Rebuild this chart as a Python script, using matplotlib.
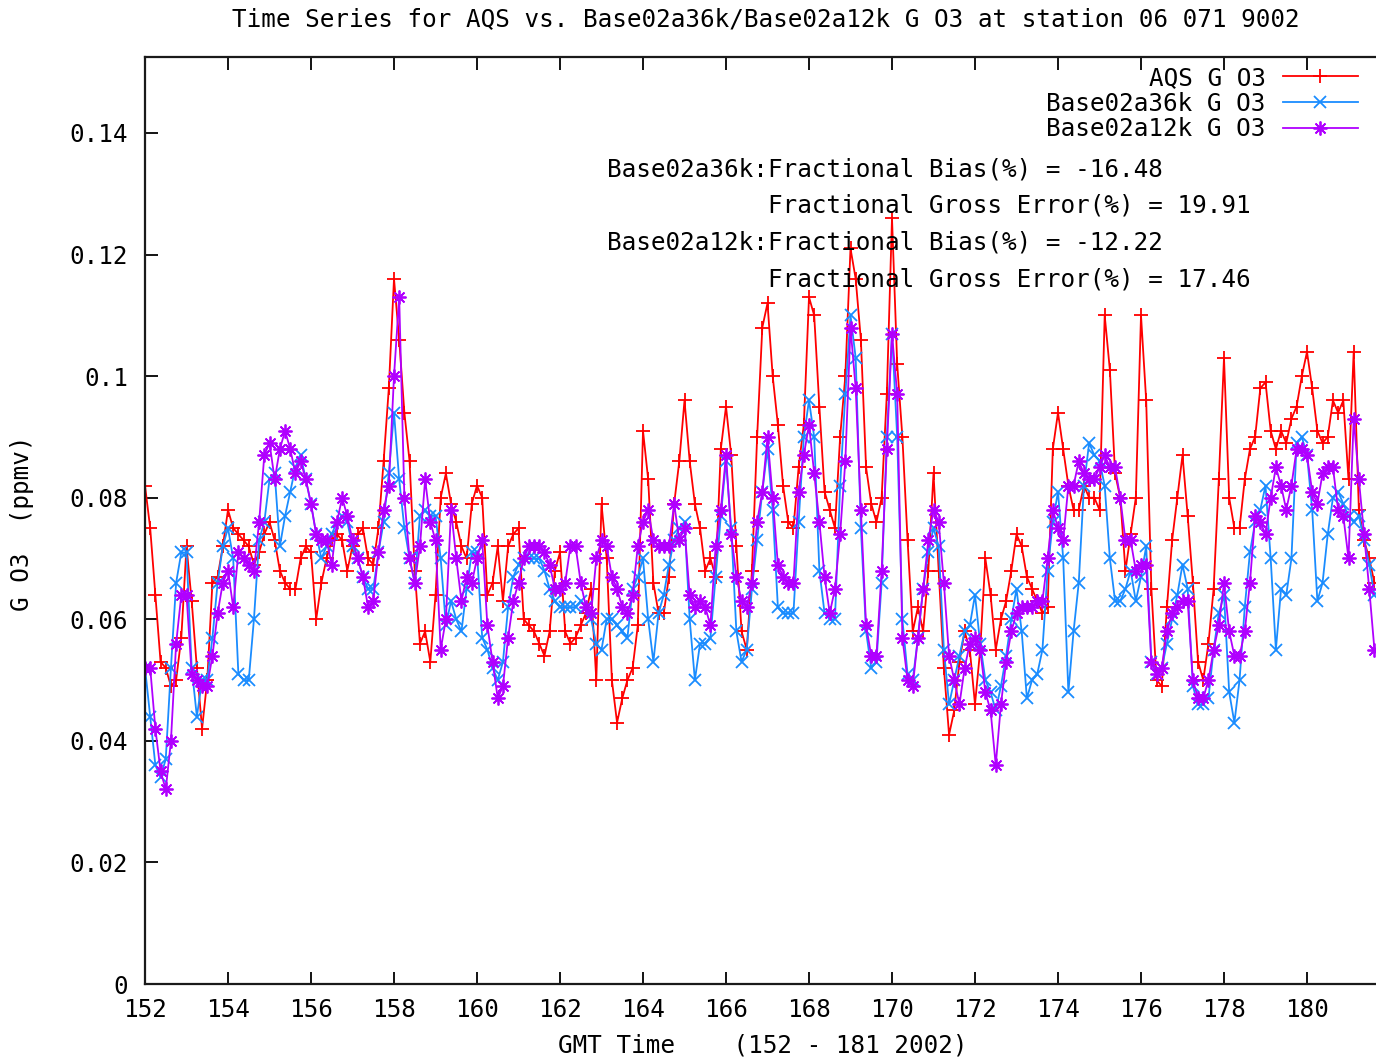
import numpy as np
import matplotlib
matplotlib.use("Agg")
import matplotlib.pyplot as plt
from matplotlib.ticker import FixedLocator, FuncFormatter

# Hourly ozone sampled every 3 hours, GMT day-of-year 152.0 .. 181.625 (2002)
STEP_PER_DAY = 8
START_DAY = 152

aqs_o3 = [
    0.082, 0.075, 0.064, 0.053, 0.052, 0.049, 0.050, 0.057,   # 152
    0.072, 0.063, 0.052, 0.042, 0.050, 0.066, 0.067, 0.072,   # 153
    0.078, 0.075, 0.074, 0.073, 0.072, 0.069, 0.071, 0.074,   # 154
    0.076, 0.073, 0.068, 0.066, 0.065, 0.065, 0.070, 0.072,   # 155
    0.071, 0.060, 0.066, 0.070, 0.073, 0.074, 0.073, 0.068,   # 156
    0.072, 0.074, 0.075, 0.070, 0.069, 0.075, 0.086, 0.098,   # 157
    0.116, 0.106, 0.094, 0.086, 0.068, 0.056, 0.058, 0.053,   # 158
    0.064, 0.080, 0.084, 0.079, 0.076, 0.072, 0.070, 0.079,   # 159
    0.082, 0.080, 0.064, 0.066, 0.072, 0.063, 0.072, 0.074,   # 160
    0.075, 0.060, 0.059, 0.058, 0.056, 0.054, 0.058, 0.068,   # 161
    0.071, 0.058, 0.056, 0.057, 0.059, 0.061, 0.065, 0.050,   # 162
    0.079, 0.070, 0.050, 0.043, 0.047, 0.050, 0.052, 0.059,   # 163
    0.091, 0.083, 0.066, 0.061, 0.061, 0.067, 0.079, 0.086,   # 164
    0.096, 0.086, 0.079, 0.075, 0.068, 0.070, 0.067, 0.088,   # 165
    0.095, 0.087, 0.072, 0.058, 0.055, 0.068, 0.090, 0.108,   # 166
    0.112, 0.100, 0.092, 0.082, 0.076, 0.075, 0.085, 0.092,   # 167
    0.113, 0.110, 0.095, 0.081, 0.078, 0.075, 0.090, 0.100,   # 168
    0.121, 0.116, 0.106, 0.085, 0.079, 0.076, 0.080, 0.097,   # 169
    0.126, 0.102, 0.090, 0.073, 0.058, 0.062, 0.058, 0.068,   # 170
    0.084, 0.068, 0.052, 0.041, 0.045, 0.053, 0.058, 0.055,   # 171
    0.046, 0.055, 0.070, 0.064, 0.055, 0.060, 0.063, 0.068,   # 172
    0.074, 0.072, 0.067, 0.065, 0.063, 0.061, 0.062, 0.088,   # 173
    0.094, 0.088, 0.082, 0.078, 0.078, 0.082, 0.080, 0.080,   # 174
    0.078, 0.110, 0.101, 0.084, 0.080, 0.068, 0.074, 0.080,   # 175
    0.110, 0.096, 0.065, 0.050, 0.049, 0.062, 0.073, 0.080,   # 176
    0.087, 0.077, 0.066, 0.053, 0.050, 0.056, 0.065, 0.083,   # 177
    0.103, 0.080, 0.075, 0.075, 0.083, 0.088, 0.090, 0.098,   # 178
    0.099, 0.091, 0.088, 0.091, 0.089, 0.093, 0.095, 0.100,   # 179
    0.104, 0.098, 0.091, 0.089, 0.090, 0.096, 0.094, 0.096,   # 180
    0.083, 0.104, 0.078, 0.073, 0.070, 0.066,                 # 181
]

base36k_o3 = [
    0.052, 0.044, 0.036, 0.034, 0.037, 0.052, 0.066, 0.071,   # 152
    0.071, 0.052, 0.044, 0.050, 0.050, 0.057, 0.066, 0.072,   # 153
    0.075, 0.070, 0.051, 0.050, 0.050, 0.060, 0.073, 0.076,   # 154
    0.083, 0.084, 0.072, 0.077, 0.081, 0.085, 0.087, 0.083,   # 155
    0.079, 0.074, 0.070, 0.072, 0.074, 0.076, 0.077, 0.076,   # 156
    0.072, 0.070, 0.067, 0.065, 0.065, 0.071, 0.076, 0.084,   # 157
    0.094, 0.083, 0.075, 0.070, 0.066, 0.077, 0.078, 0.077,   # 158
    0.077, 0.070, 0.059, 0.063, 0.060, 0.058, 0.065, 0.071,   # 159
    0.071, 0.057, 0.055, 0.052, 0.050, 0.053, 0.062, 0.067,   # 160
    0.069, 0.070, 0.070, 0.070, 0.070, 0.068, 0.065, 0.063,   # 161
    0.062, 0.062, 0.062, 0.062, 0.063, 0.062, 0.060, 0.056,   # 162
    0.055, 0.060, 0.060, 0.059, 0.058, 0.057, 0.065, 0.067,   # 163
    0.070, 0.060, 0.053, 0.061, 0.064, 0.069, 0.073, 0.075,   # 164
    0.076, 0.060, 0.050, 0.056, 0.056, 0.057, 0.067, 0.077,   # 165
    0.086, 0.075, 0.058, 0.053, 0.055, 0.065, 0.073, 0.081,   # 166
    0.088, 0.078, 0.062, 0.061, 0.061, 0.061, 0.076, 0.090,   # 167
    0.096, 0.090, 0.068, 0.061, 0.060, 0.060, 0.082, 0.097,   # 168
    0.110, 0.103, 0.075, 0.058, 0.052, 0.053, 0.066, 0.090,   # 169
    0.107, 0.090, 0.060, 0.051, 0.050, 0.057, 0.065, 0.071,   # 170
    0.075, 0.072, 0.055, 0.046, 0.050, 0.054, 0.058, 0.059,   # 171
    0.064, 0.056, 0.050, 0.048, 0.045, 0.049, 0.054, 0.060,   # 172
    0.065, 0.058, 0.047, 0.050, 0.051, 0.055, 0.068, 0.076,   # 173
    0.081, 0.070, 0.048, 0.058, 0.066, 0.082, 0.089, 0.087,   # 174
    0.086, 0.082, 0.070, 0.063, 0.063, 0.065, 0.068, 0.063,   # 175
    0.067, 0.072, 0.053, 0.051, 0.052, 0.056, 0.060, 0.064,   # 176
    0.069, 0.065, 0.049, 0.046, 0.046, 0.047, 0.055, 0.061,   # 177
    0.064, 0.048, 0.043, 0.050, 0.062, 0.071, 0.076, 0.078,   # 178
    0.082, 0.070, 0.055, 0.065, 0.064, 0.070, 0.089, 0.090,   # 179
    0.087, 0.078, 0.063, 0.066, 0.074, 0.080, 0.081, 0.079,   # 180
    0.077, 0.076, 0.077, 0.073, 0.069, 0.064,                 # 181
]

base12k_o3 = [
    0.052, 0.052, 0.042, 0.035, 0.032, 0.040, 0.056, 0.064,   # 152
    0.064, 0.051, 0.050, 0.049, 0.049, 0.054, 0.061, 0.066,   # 153
    0.068, 0.062, 0.071, 0.070, 0.069, 0.068, 0.076, 0.087,   # 154
    0.089, 0.083, 0.088, 0.091, 0.088, 0.084, 0.086, 0.083,   # 155
    0.079, 0.074, 0.073, 0.073, 0.069, 0.076, 0.080, 0.077,   # 156
    0.073, 0.070, 0.067, 0.062, 0.063, 0.071, 0.078, 0.082,   # 157
    0.100, 0.113, 0.080, 0.070, 0.066, 0.072, 0.083, 0.076,   # 158
    0.073, 0.055, 0.060, 0.078, 0.070, 0.063, 0.067, 0.066,   # 159
    0.070, 0.073, 0.059, 0.053, 0.047, 0.049, 0.057, 0.063,   # 160
    0.066, 0.070, 0.072, 0.072, 0.072, 0.071, 0.069, 0.065,   # 161
    0.065, 0.066, 0.072, 0.072, 0.066, 0.062, 0.061, 0.070,   # 162
    0.073, 0.072, 0.067, 0.065, 0.062, 0.061, 0.064, 0.072,   # 163
    0.076, 0.078, 0.073, 0.072, 0.072, 0.072, 0.079, 0.073,   # 164
    0.075, 0.064, 0.062, 0.063, 0.062, 0.059, 0.072, 0.078,   # 165
    0.087, 0.074, 0.067, 0.063, 0.062, 0.066, 0.076, 0.081,   # 166
    0.090, 0.080, 0.069, 0.067, 0.066, 0.066, 0.081, 0.087,   # 167
    0.092, 0.084, 0.076, 0.067, 0.061, 0.065, 0.074, 0.086,   # 168
    0.108, 0.098, 0.078, 0.059, 0.054, 0.054, 0.068, 0.088,   # 169
    0.107, 0.097, 0.057, 0.050, 0.049, 0.057, 0.065, 0.073,   # 170
    0.078, 0.076, 0.066, 0.054, 0.050, 0.046, 0.052, 0.056,   # 171
    0.057, 0.055, 0.048, 0.045, 0.036, 0.046, 0.053, 0.058,   # 172
    0.061, 0.062, 0.062, 0.062, 0.063, 0.063, 0.070, 0.078,   # 173
    0.075, 0.073, 0.082, 0.082, 0.086, 0.084, 0.083, 0.083,   # 174
    0.085, 0.087, 0.085, 0.085, 0.080, 0.073, 0.073, 0.068,   # 175
    0.069, 0.069, 0.053, 0.051, 0.052, 0.058, 0.061, 0.062,   # 176
    0.063, 0.063, 0.050, 0.047, 0.047, 0.050, 0.055, 0.059,   # 177
    0.066, 0.058, 0.054, 0.054, 0.058, 0.066, 0.077, 0.076,   # 178
    0.074, 0.080, 0.085, 0.082, 0.078, 0.082, 0.088, 0.088,   # 179
    0.087, 0.081, 0.079, 0.084, 0.085, 0.085, 0.078, 0.077,   # 180
    0.070, 0.093, 0.083, 0.074, 0.065, 0.055,                 # 181
]

series_labels = ["AQS G O3", "Base02a36k G O3", "Base02a12k G O3"]
series_colors = ["#ff0000", "#1a8cff", "#b000ff"]
x_ticks = list(range(152, 181, 2))
y_ticks = [0, 0.02, 0.04, 0.06, 0.08, 0.10, 0.12, 0.14]

stats_lines = [
    ("Base02a36k:", "Fractional Bias(%) = -16.48"),
    ("", "Fractional Gross Error(%) = 19.91"),
    ("Base02a12k:", "Fractional Bias(%) = -12.22"),
    ("", "Fractional Gross Error(%) = 17.46"),
]

title = "Time Series for AQS vs. Base02a36k/Base02a12k G O3 at station 06 071 9002"
x_title = "GMT Time    (152 - 181 2002)"
y_title = "G O3  (ppmv)"

FONT = "DejaVu Sans Mono"
FS = 17.5
plt.rcParams["font.family"] = [FONT, "DejaVu Sans"]
plt.rcParams["font.size"] = FS

W, H = 1376, 1057
fig = plt.figure(figsize=(W / 100, H / 100), dpi=100)
left_px, right_px, top_px, bottom_px = 145, 1390, 57, 984
ax = fig.add_axes([left_px / W, 1 - bottom_px / H,
                   (right_px - left_px) / W, (bottom_px - top_px) / H])

markers = ["+", "x", (8, 2, 0)]
sizes = [9.5, 8, 10]
lines = []
for vals, lab, col, mk, ms in zip([aqs_o3, base36k_o3, base12k_o3],
                                  series_labels, series_colors, markers, sizes):
    tt = START_DAY + np.arange(len(vals)) / STEP_PER_DAY
    ln, = ax.plot(tt, vals, color=col, lw=1.3, marker=mk, ms=ms, mew=1.3,
                  mec=col, mfc="none", label=lab)
    lines.append(ln)

ax.set_xlim(152, 182)
ax.set_ylim(0, 0.1525)
ax.xaxis.set_major_locator(FixedLocator(x_ticks))
ax.yaxis.set_major_locator(FixedLocator(y_ticks))
ax.yaxis.set_major_formatter(FuncFormatter(lambda v, p: f"{v:g}"))
ax.tick_params(direction="in", length=9, width=1.3, top=True, right=True,
               labelsize=FS, colors="black")
ax.tick_params(axis="x", pad=10)
ax.tick_params(axis="y", pad=12)
for side, sp in ax.spines.items():
    sp.set_linewidth(1.6)
    sp.set_color("#1a1a1a")

leg = ax.legend(handles=lines, loc="upper right",
                bbox_to_anchor=((1358 - left_px) / (right_px - left_px),
                                (bottom_px - 66) / (bottom_px - top_px)),
                frameon=False, markerfirst=False, borderpad=0,
                borderaxespad=0, handlelength=3.1, handletextpad=0.7,
                labelspacing=0.07, numpoints=1, fontsize=FS)

# statistics block: prefix right-aligned, body left-aligned on a shared column
col_x = (768 - left_px) / (right_px - left_px)
for (prefix, body), ypx in zip(stats_lines, [170, 206, 243, 280]):
    yy = (bottom_px - ypx) / (bottom_px - top_px)
    if prefix:
        ax.text(col_x, yy, prefix, transform=ax.transAxes, ha="right",
                va="center", fontsize=FS)
    ax.text(col_x, yy, body, transform=ax.transAxes, ha="left",
            va="center", fontsize=FS)

fig.text(766 / W, 1 - 19 / H, title, ha="center", va="center", fontsize=FS)
fig.text(763 / W, 1 - 1045 / H, x_title, ha="center", va="center", fontsize=FS)
fig.text(22 / W, 1 - 523 / H, y_title, ha="center", va="center",
         rotation=90, fontsize=FS)

fig.savefig("out.png", dpi=100)
